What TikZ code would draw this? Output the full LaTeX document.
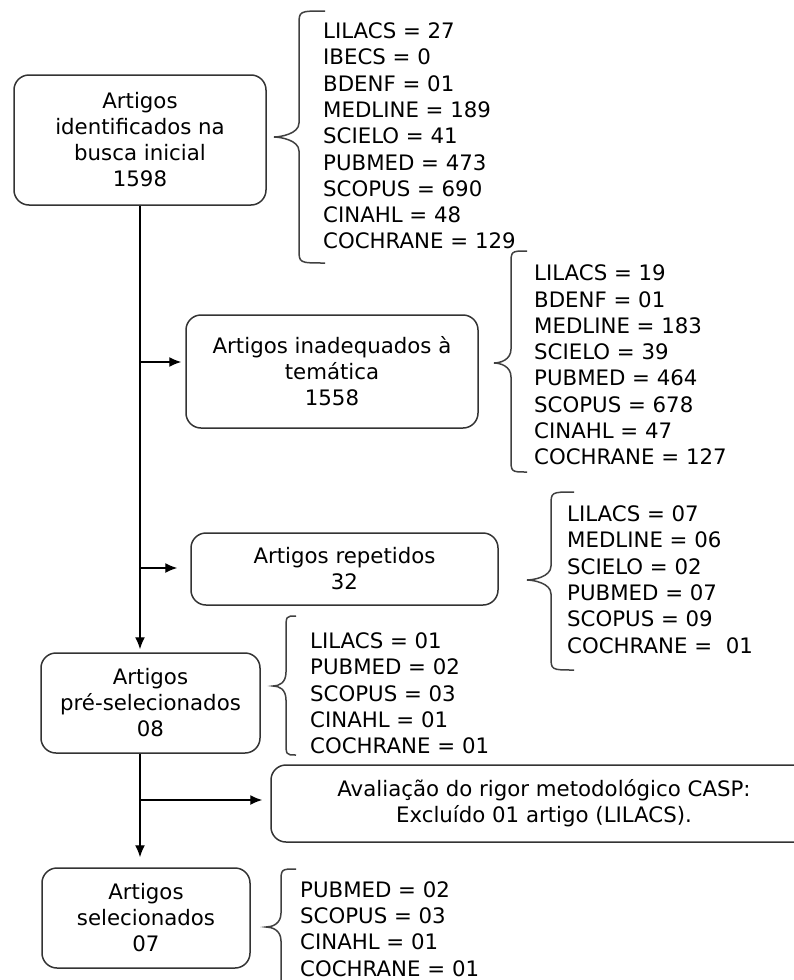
\documentclass[tikz,border=0pt]{standalone}
\usepackage{fontspec}
\setmainfont{DejaVu Sans}
\usetikzlibrary{arrows.meta}
\begin{document}
\begin{tikzpicture}[x=1pt, y=-1pt, >={Latex[length=12pt,width=10pt]},
  caixa/.style={draw=black!80, line width=1.5pt, rounded corners=15pt, align=center,
    inner sep=0pt, font=\fontsize{21.3}{26}\selectfont},
  lista/.style={anchor=west, align=left, inner sep=0pt, font=\fontsize{21.3}{26.3}\selectfont},
  fluxo/.style={line width=1.4pt, ->},
  chave/.style={draw=black!75, line width=1.5pt}]
\useasboundingbox (0,0) rectangle (793,980);

\node[caixa, minimum width=252pt, minimum height=130pt] (ident) at (140,140)
  {Artigos\\identificados na\\busca inicial\\1598};
\node[caixa, minimum width=292pt, minimum height=113pt] (inadeq) at (332,371.5)
  {Artigos inadequados à\\temática\\1558};
\node[caixa, minimum width=307pt, minimum height=72pt] (repet) at (344.5,569)
  {Artigos repetidos\\32};
\node[caixa, minimum width=219pt, minimum height=100pt] (presel) at (150.5,703)
  {Artigos\\pré-selecionados\\08};
\node[caixa, minimum width=546pt, minimum height=77pt] (casp) at (544,803.5)
  {Avaliação do rigor metodológico CASP:\\Excluído 01 artigo (LILACS).};
\node[caixa, minimum width=208pt, minimum height=100pt] (selec) at (146,918)
  {Artigos\\selecionados\\07};

% listas por base
\node[lista] (lista1) at (323,136) {LILACS = 27\\IBECS = 0\\BDENF = 01\\MEDLINE = 189\\SCIELO = 41\\PUBMED = 473\\SCOPUS = 690\\CINAHL = 48\\COCHRANE = 129};
\node[lista] (lista2) at (534,365) {LILACS = 19\\BDENF = 01\\MEDLINE = 183\\SCIELO = 39\\PUBMED = 464\\SCOPUS = 678\\CINAHL = 47\\COCHRANE = 127};
\node[lista] (lista3) at (567,579.5) {LILACS = 07\\MEDLINE = 06\\SCIELO = 02\\PUBMED = 07\\SCOPUS = 09\\COCHRANE = \ 01};
\node[lista] (lista4) at (310,693.5) {LILACS = 01\\PUBMED = 02\\SCOPUS = 03\\CINAHL = 01\\COCHRANE = 01};
\node[lista] (lista5) at (300,929) {PUBMED = 02\\SCOPUS = 03\\CINAHL = 01\\COCHRANE = 01};

% chaves
\foreach \tx/\ty/\vx/\ex/\yt/\yb in {274/137/299/325/11/263, 494/363/511/527/251/472,
    527/580/551/574/492/670, 273/686/286/296/616/755, 266/927/281/296/869/986}
{
    \draw[chave] (\ex,\yt) .. controls (\vx,\yt) .. (\vx,\yt+14) -- (\vx,\ty-14)
      .. controls (\vx,\ty-3) and (\tx+6,\ty) .. (\tx,\ty)
      .. controls (\tx+6,\ty) and (\vx,\ty+3) .. (\vx,\ty+14) -- (\vx,\yb-14)
      .. controls (\vx,\yb) .. (\ex,\yb);
}

% fluxo principal
\draw[fluxo, shorten >=3pt] (ident.south) -- (ident.south |- presel.north);
\draw[fluxo, shorten >=10pt] (ident.south |- presel.south) -- (ident.south |- selec.north);
\coordinate (r1) at (140,362);
\coordinate (r2) at (140,568);
\coordinate (r3) at (140,800);
\draw[fluxo, shorten >=4pt] (r1) -- (r1 -| inadeq.west);
\draw[fluxo, shorten >=13pt] (r2) -- (r2 -| repet.west);
\draw[fluxo, shorten >=8pt] (r3) -- (r3 -| casp.west);
\end{tikzpicture}
\end{document}
